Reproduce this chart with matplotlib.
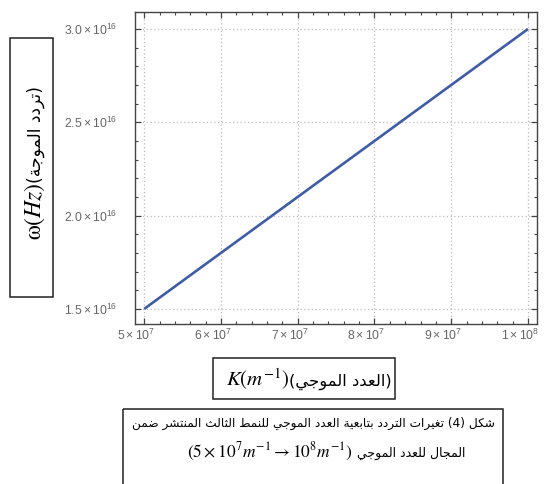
import matplotlib
matplotlib.use("Agg")
import re
import matplotlib.pyplot as plt
import matplotlib.transforms as mtransforms
from matplotlib.patches import Rectangle
from matplotlib.ticker import MultipleLocator

plt.rcParams["mathtext.fontset"] = "custom"
plt.rcParams["mathtext.rm"] = "Liberation Sans"
plt.rcParams["mathtext.it"] = "Liberation Sans:italic"

# ---- data -------------------------------------------------------------
k_values = [5e7, 6e7, 7e7, 8e7, 9e7, 1e8]
omega_values = [1.5e16, 1.8e16, 2.1e16, 2.4e16, 2.7e16, 3.0e16]

x_ticks = [5e7, 6e7, 7e7, 8e7, 9e7, 1e8]
x_tick_labels = [r"$5\times10^{7}$", r"$6\times10^{7}$", r"$7\times10^{7}$",
                 r"$8\times10^{7}$", r"$9\times10^{7}$", r"$1\times10^{8}$"]
y_ticks = [1.5e16, 2.0e16, 2.5e16, 3.0e16]
y_tick_labels = [r"$1.5\times10^{16}$", r"$2.0\times10^{16}$",
                 r"$2.5\times10^{16}$", r"$3.0\times10^{16}$"]

y_label_math = r"$\mathrm{\omega}(Hz)$"
y_label_ar = "(تردد الموجة)"
x_label_math = r"$K(m^{-1})$"
x_label_ar = "(العدد الموجي)"
caption_1 = "شكل (4) تغيرات التردد بتابعية العدد الموجي للنمط الثالث المنتشر ضمن"
caption_2_math = r"$(5\times10^{7}m^{-1}\rightarrow10^{8}m^{-1})$"
caption_2_ar = "المجال للعدد الموجي"

# ---- Arabic contextual shaping (presentation forms) + visual order ----
FORMS = {
    "ا": ("\uFE8D", "\uFE8E", None, None),
    "ب": ("\uFE8F", "\uFE90", "\uFE91", "\uFE92"),
    "ة": ("\uFE93", "\uFE94", None, None),
    "ت": ("\uFE95", "\uFE96", "\uFE97", "\uFE98"),
    "ث": ("\uFE99", "\uFE9A", "\uFE9B", "\uFE9C"),
    "ج": ("\uFE9D", "\uFE9E", "\uFE9F", "\uFEA0"),
    "د": ("\uFEA9", "\uFEAA", None, None),
    "ر": ("\uFEAD", "\uFEAE", None, None),
    "ش": ("\uFEB5", "\uFEB6", "\uFEB7", "\uFEB8"),
    "ض": ("\uFEBD", "\uFEBE", "\uFEBF", "\uFEC0"),
    "ط": ("\uFEC1", "\uFEC2", "\uFEC3", "\uFEC4"),
    "ع": ("\uFEC9", "\uFECA", "\uFECB", "\uFECC"),
    "غ": ("\uFECD", "\uFECE", "\uFECF", "\uFED0"),
    "ك": ("\uFED9", "\uFEDA", "\uFEDB", "\uFEDC"),
    "ل": ("\uFEDD", "\uFEDE", "\uFEDF", "\uFEE0"),
    "م": ("\uFEE1", "\uFEE2", "\uFEE3", "\uFEE4"),
    "ن": ("\uFEE5", "\uFEE6", "\uFEE7", "\uFEE8"),
    "و": ("\uFEED", "\uFEEE", None, None),
    "ي": ("\uFEF1", "\uFEF2", "\uFEF3", "\uFEF4"),
}
MIRROR = {"(": ")", ")": "("}


def rtl(text):
    out = []
    for i, c in enumerate(text):
        if c not in FORMS:
            out.append(c)
            continue
        prev = text[i - 1] if i > 0 else ""
        nxt = text[i + 1] if i + 1 < len(text) else ""
        join_prev = prev in FORMS and FORMS[prev][2] is not None
        join_next = FORMS[c][2] is not None and nxt in FORMS
        iso, fin, ini, med = FORMS[c]
        if join_prev and join_next:
            out.append(med)
        elif join_prev:
            out.append(fin)
        elif join_next:
            out.append(ini)
        else:
            out.append(iso)
    visual = "".join(MIRROR.get(c, c) for c in reversed(out))
    return re.sub(r"[0-9]+", lambda m: m.group(0)[::-1], visual)


# ---- figure -----------------------------------------------------------
W, H = 550, 484
fig = plt.figure(figsize=(W / 100, H / 100), dpi=100)
fig.patch.set_facecolor("white")

ax = fig.add_axes([135 / W, 1 - 324 / H, (537 - 135) / W, (324 - 12) / H])
ax.plot(k_values, omega_values, color="#3f5ca6", lw=1.9, solid_capstyle="butt")
ax.set_xlim(4.88e7, 1.0117e8)
ax.set_ylim(1.419e16, 3.091e16)

ax.set_xticks(x_ticks, labels=x_tick_labels)
ax.set_yticks(y_ticks, labels=y_tick_labels)
ax.xaxis.set_minor_locator(MultipleLocator(2e6))
ax.yaxis.set_minor_locator(MultipleLocator(1e15))
ax.tick_params(which="both", direction="in", top=True, right=True,
               color="#444444", labelcolor="#666666", labelsize=8.8)
ax.tick_params(which="major", length=4.2, width=0.9)
ax.tick_params(which="minor", length=2.4, width=0.8)
ax.tick_params(axis="x", pad=2.5)
ax.tick_params(axis="y", pad=13)
ax.grid(True, which="major", color="#bcbcbc", lw=0.9, linestyle=(0, (1, 2)))
for sp in ax.spines.values():
    sp.set_color("#444444")
    sp.set_linewidth(1.0)

shift = mtransforms.ScaledTranslation(-8 / 100, 0, fig.dpi_scale_trans)
for tick in ax.xaxis.get_major_ticks():
    tick.label1.set_transform(tick.label1.get_transform() + shift)

# ---- overlay in pixel units for the boxed labels ----------------------
ov = fig.add_axes([0, 0, 1, 1], zorder=5)
ov.set_xlim(0, W)
ov.set_ylim(H, 0)
ov.axis("off")

box_kw = dict(fill=False, edgecolor="#222222", lw=1.1)
ov.add_patch(Rectangle((10, 38), 43, 259, **box_kw))
ov.add_patch(Rectangle((213, 358), 182, 41, **box_kw))
ov.add_patch(Rectangle((123, 409), 380, 90, clip_on=False, **box_kw))

renderer = fig.canvas.get_renderer()
math_kw = dict(math_fontfamily="stix", color="black")
ar_kw = dict(family="DejaVu Sans", color="black")


def row(parts, xc, yb, gap=0.0):
    texts = [ov.text(0, yb, s, ha="left", va="baseline", fontsize=fs, **kw)
             for s, fs, kw in parts]
    widths = [t.get_window_extent(renderer).width for t in texts]
    x = xc - (sum(widths) + gap * (len(texts) - 1)) / 2
    for t, w in zip(texts, widths):
        t.set_x(x)
        x += w + gap


def column(parts, xb, yc, gap=0.0):
    texts = [ov.text(xb, 0, s, ha="left", va="baseline", rotation=90,
                     rotation_mode="anchor", fontsize=fs, **kw)
             for s, fs, kw in parts]
    lengths = [t.get_window_extent(renderer).height for t in texts]
    y = yc + (sum(lengths) + gap * (len(texts) - 1)) / 2
    for t, h in zip(texts, lengths):
        t.set_y(y)
        y -= h + gap


column([(y_label_math, 17, math_kw), (rtl(y_label_ar), 12.3, ar_kw)], 41, 163)
row([(x_label_math, 15, math_kw), (rtl(x_label_ar), 11.8, ar_kw)], 309, 386)
row([(rtl(caption_1), 8.7, ar_kw)], 313, 427)
row([(caption_2_math, 12.5, math_kw), (rtl(caption_2_ar), 9, ar_kw)], 326, 457, gap=4)

fig.savefig("out.png", dpi=100, facecolor="white")
